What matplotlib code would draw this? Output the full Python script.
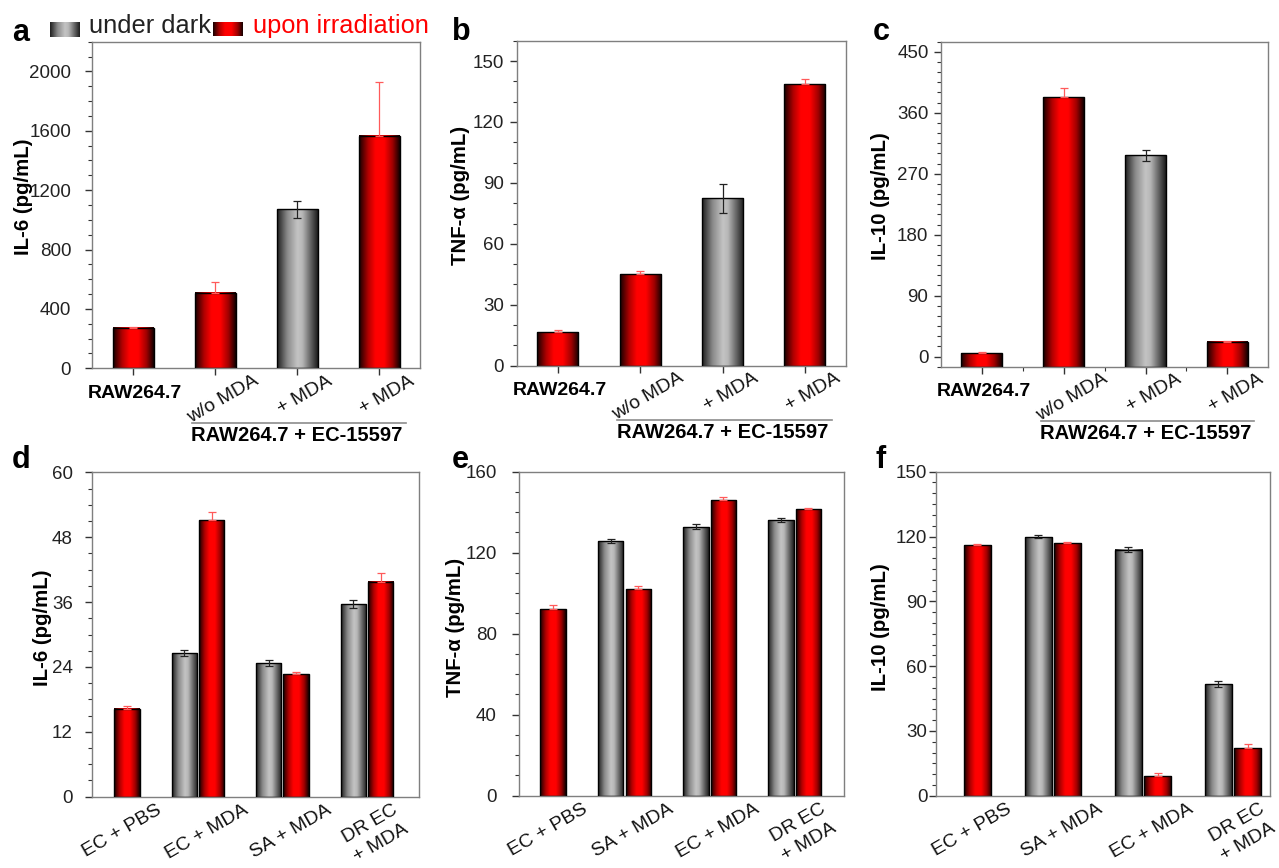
import numpy as np
import matplotlib
matplotlib.use('Agg')
import matplotlib.pyplot as plt
import matplotlib.transforms as mtransforms
from matplotlib.colors import LinearSegmentedColormap
from matplotlib.ticker import MultipleLocator

plt.rcParams['font.family'] = ['Liberation Sans', 'DejaVu Sans']

# top row (a-c): one bar per condition
top_labels = ['RAW264.7', 'w/o MDA', '+ MDA', '+ MDA']
top_kind = ['irr', 'irr', 'dark', 'irr']
top_group = 'RAW264.7 + EC-15597'
il6_top = [270, 510, 1070, 1568]
il6_top_err = [6, 72, 60, 362]
tnf_top = [16.6, 45.1, 82.4, 138.5]
tnf_top_err = [1.0, 1.7, 7.0, 2.6]
il10_top = [5, 382.7, 297, 22]
il10_top_err = [1, 14, 8, 0.5]

# bottom row (d-f): dark / irradiated pairs
d_groups = ['EC + PBS', 'EC + MDA', 'SA + MDA', 'DR EC\n+ MDA']
ef_groups = ['EC + PBS', 'SA + MDA', 'EC + MDA', 'DR EC\n+ MDA']
il6_dark = [np.nan, 26.6, 24.7, 35.6]
il6_dark_err = [0, 0.5, 0.5, 0.7]
il6_irr = [16.3, 51.2, 22.7, 39.8]
il6_irr_err = [0.5, 1.4, 0.3, 1.5]
tnf_dark = [np.nan, 125.8, 132.8, 136.1]
tnf_dark_err = [0, 1.0, 1.2, 1.1]
tnf_irr = [92.2, 101.9, 146.0, 141.4]
tnf_irr_err = [1.8, 1.6, 1.6, 0.8]
il10_dark = [np.nan, 119.9, 113.9, 51.5]
il10_dark_err = [0, 0.8, 1.2, 1.4]
il10_irr = [116.2, 117.1, 9.1, 21.9]
il10_irr_err = [0.5, 0.4, 1.2, 1.9]

red_cmap = LinearSegmentedColormap.from_list('redbar', [
    (0, '#160000'), (0.22, '#b00000'), (0.4, '#ff0000'), (0.62, '#ff0000'),
    (0.82, '#a00000'), (1, '#120000')])
gray_cmap = LinearSegmentedColormap.from_list('graybar', [
    (0, '#1e1e1e'), (0.25, '#8a8a8a'), (0.5, '#c4c4c4'), (0.62, '#b8b8b8'),
    (0.82, '#666666'), (1, '#1c1c1c')])
grad = np.linspace(0, 1, 128)[None, :]


def grad_bars(ax, x, vals, width, kind, base=0):
    vals = np.asarray(vals, dtype=float)
    bars = ax.bar(x, vals - base, width, bottom=base, facecolor='none',
                  edgecolor='black', linewidth=1.0, zorder=3)
    for b, k in zip(bars, kind):
        if np.isnan(b.get_height()):
            continue
        cm = red_cmap if k == 'irr' else gray_cmap
        ax.imshow(grad, cmap=cm, aspect='auto', interpolation='bicubic', zorder=2,
                  extent=[b.get_x(), b.get_x() + b.get_width(),
                          b.get_y(), b.get_y() + b.get_height()])


def err_bars(ax, x, vals, err, kind):
    x = np.asarray(x, dtype=float)
    vals = np.asarray(vals, dtype=float)
    err = np.asarray(err, dtype=float)
    for k in ['dark', 'irr']:
        m = np.array([kk == k for kk in kind]) & ~np.isnan(vals)
        if not m.any():
            continue
        if k == 'dark':
            ax.errorbar(x[m], vals[m], yerr=err[m], fmt='none', ecolor='#222222',
                        elinewidth=0.9, capsize=3, capthick=0.9, zorder=4)
        else:
            ax.errorbar(x[m], vals[m], yerr=[np.zeros(m.sum()), err[m]], fmt='none',
                        ecolor='#ff5a5a', elinewidth=0.9, capsize=3, capthick=0.9, zorder=4)


def style(ax, ylim, major, minor, xlim, pad):
    ax.set_ylim(*ylim)
    ax.set_xlim(*xlim)
    ax.yaxis.set_major_locator(MultipleLocator(major))
    ax.yaxis.set_minor_locator(MultipleLocator(minor))
    for s in ax.spines.values():
        s.set_color('#7f7f7f')
        s.set_linewidth(1.0)
    ax.tick_params(axis='y', which='major', direction='out', length=5, width=1,
                   color='#333333', labelsize=13.5, labelcolor='#222222', pad=pad)
    ax.tick_params(axis='y', which='minor', direction='out', length=3, width=0.8,
                   color='#333333')


W, H = 1279, 868
fig = plt.figure(figsize=(W / 100, H / 100), dpi=100)


def px_axes(l, t, r, b):
    return fig.add_axes([l / W, 1 - b / H, (r - l) / W, (b - t) / H])


ax_a = px_axes(92, 41.7, 420, 368.3)
ax_b = px_axes(516.7, 40.7, 846, 365.7)
ax_c = px_axes(941, 41.7, 1268.3, 366.7)
ax_d = px_axes(92.3, 472.3, 419.3, 796.7)
ax_e = px_axes(519, 471.7, 844, 795.7)
ax_f = px_axes(935.7, 471.7, 1270, 795.7)

xpos = np.arange(1, 5)

# ---- top row
top_specs = [
    (ax_a, il6_top, il6_top_err, 'IL-6 (pg/mL)', (0, 2200), 400, 100, 0, 0.18, 10),
    (ax_b, tnf_top, tnf_top_err, 'TNF-α (pg/mL)', (0, 160), 30, 10, 0, 0.142, 4),
    (ax_c, il10_top, il10_top_err, 'IL-10 (pg/mL)', (-15, 465), 90, 15, -15, 0.156, 4),
]
for ax, vals, err, ylab, ylim, mj, mn, base, lx, pad in top_specs:
    grad_bars(ax, xpos, vals, 0.5, top_kind, base=base)
    err_bars(ax, xpos, vals, err, top_kind)
    style(ax, ylim, mj, mn, (0.5, 4.5), pad)
    ax.set_xticks(xpos)
    ax.set_xticklabels([])
    ax.tick_params(axis='x', which='major', direction='out', length=5, width=1,
                   color='#333333')
    ax.set_ylabel(ylab, fontsize=14.7, fontweight='bold')
    ax.yaxis.set_label_coords(-lx, 0.525)
    tr = mtransforms.blended_transform_factory(ax.transData, ax.transAxes)
    ax.text(1.02, -0.05, top_labels[0], transform=tr, ha='center', va='top',
            fontsize=14, fontweight='bold')
    for x, lab in zip(xpos[1:], top_labels[1:]):
        ax.text(x + 0.1, -0.012, lab, transform=tr, rotation=30, ha='center',
                va='top', fontsize=14, color='#111111')
    ax.plot([1.72, 4.33], [-0.167, -0.167], transform=tr, clip_on=False,
            color='#8c8c8c', lw=1.2)
    ax.text(3.0, -0.176, top_group, transform=tr, ha='center', va='top',
            fontsize=14.5, fontweight='bold')

ax_c.set_xticks([1.5, 2.5, 3.5], minor=True)
ax_c.tick_params(axis='x', which='minor', direction='out', length=3, width=0.8,
                 color='#333333')

# ---- bottom row
bot_specs = [
    (ax_d, d_groups, il6_dark, il6_dark_err, il6_irr, il6_irr_err, 'IL-6 (pg/mL)',
     (0, 60), 12, 3, (0.75, 4.62), 0.124, 9),
    (ax_e, ef_groups, tnf_dark, tnf_dark_err, tnf_irr, tnf_irr_err, 'TNF-α (pg/mL)',
     (0, 160), 40, 10, (0.76, 4.58), 0.166, 11),
    (ax_f, ef_groups, il10_dark, il10_dark_err, il10_irr, il10_irr_err, 'IL-10 (pg/mL)',
     (0, 150), 30, 5, (0.70, 4.41), 0.136, 1),
]
off, bw = 0.162, 0.30
for ax, groups, dv, de, iv, ie, ylab, ylim, mj, mn, xl, lx, pad in bot_specs:
    grad_bars(ax, xpos - off, dv, bw, ['dark'] * 4)
    grad_bars(ax, xpos + off, iv, bw, ['irr'] * 4)
    err_bars(ax, xpos - off, dv, de, ['dark'] * 4)
    err_bars(ax, xpos + off, iv, ie, ['irr'] * 4)
    style(ax, ylim, mj, mn, xl, pad)
    ax.set_xticks([])
    ax.set_ylabel(ylab, fontsize=14.7, fontweight='bold')
    ax.yaxis.set_label_coords(-lx, 0.52)
    tr = mtransforms.blended_transform_factory(ax.transData, ax.transAxes)
    for x, lab in zip(xpos, groups):
        ax.text(x + 0.1, -0.015, lab, transform=tr, rotation=30, ha='center',
                va='top', fontsize=14, color='#111111', linespacing=1.35)

# ---- panel letters
for lab, x, y in [('a', 12, 41), ('b', 452, 40), ('c', 873, 40),
                  ('d', 12, 468), ('e', 452, 468), ('f', 876, 468)]:
    fig.text(x / W, 1 - y / H, lab, fontsize=22, fontweight='bold', va='baseline')

# ---- legend
for (l, t, r, b), cm in [((50, 21.7, 80, 36.7), gray_cmap), ((213, 21.7, 243, 35.7), red_cmap)]:
    lax = px_axes(l, t, r, b)
    lax.imshow(grad, cmap=cm, aspect='auto', interpolation='bicubic')
    lax.axis('off')
fig.text(89 / W, 1 - 33 / H, 'under dark', fontsize=18.3, va='baseline', color='#222222')
fig.text(253 / W, 1 - 33 / H, 'upon irradiation', fontsize=18.3, va='baseline', color='red')

fig.savefig('out.png', dpi=100)
